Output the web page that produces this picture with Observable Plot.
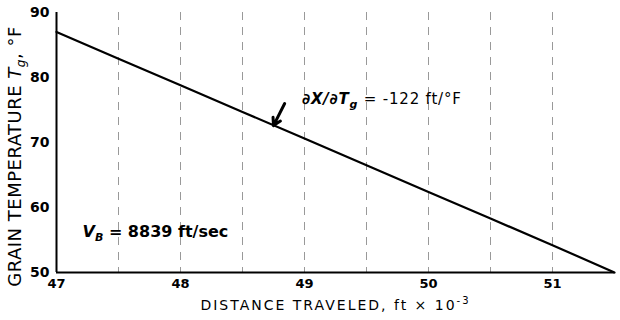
<!DOCTYPE html>
<html><head><meta charset="utf-8">
<script src="https://cdn.jsdelivr.net/npm/d3@7"></script>
<script src="https://cdn.jsdelivr.net/npm/@observablehq/plot@0.6"></script>
<style>body{margin:0;background:#fff}</style>
</head><body><div id="chart"></div>
<script>
const distance = [47, 47.5, 48, 48.5, 49, 49.5, 50, 50.5, 51, 51.5];
const temperature = [87, 82.9, 78.8, 74.7, 70.6, 66.5, 62.4, 58.3, 54.2, 50];
const gridX = [47.5, 48, 48.5, 49, 49.5, 50, 50.5, 51];
const xTicks = [47, 48, 49, 50, 51];
const yTicks = [50, 60, 70, 80, 90];
const slopeNote = {x: 48.98, y: 76.6, text: "∂X/∂Tg = -122 ft/°F"};
const velNote = {x: 47.21, y: 56.3, text: "VB = 8839 ft/sec"};
const arrowPts = {x1: 48.84, y1: 76.0, x2: 48.75, y2: 72.6};

const data = distance.map((d, i) => ({d, t: temperature[i]}));
const font = "DejaVu Sans, Liberation Sans, sans-serif";

const chart = Plot.plot({
  width: 620, height: 320,
  marginLeft: 56, marginRight: 6, marginTop: 12, marginBottom: 48,
  style: {fontFamily: font, background: "#fff", color: "#000"},
  x: {domain: [47, 51.5]},
  y: {domain: [50, 90]},
  marks: [
    Plot.ruleX(gridX, {stroke: "#999", strokeWidth: 1, strokeDasharray: "8,7"}),
    Plot.ruleX([47], {stroke: "#000", strokeWidth: 2}),
    Plot.ruleY([50], {stroke: "#000", strokeWidth: 2}),
    Plot.axisX({ticks: xTicks, tickSize: 0, tickPadding: 6, fontSize: 13, fontWeight: "bold", label: null, tickFormat: d => String(d)}),
    Plot.axisY({ticks: yTicks, tickSize: 0, tickPadding: 7, fontSize: 14, fontWeight: "bold", label: null}),
    Plot.line(data, {x: "d", y: "t", stroke: "#000", strokeWidth: 2.2}),
    Plot.arrow([arrowPts], {x1: "x1", y1: "y1", x2: "x2", y2: "y2", stroke: "#000", strokeWidth: 3, headLength: 9}),
    Plot.text([slopeNote], {x: "x", y: "y", text: "text", textAnchor: "start", fontSize: 15, className: "slope-note"}),
    Plot.text([velNote], {x: "x", y: "y", text: "text", textAnchor: "start", fontSize: 16, fontWeight: "bold", className: "vel-note"}),
    Plot.text(["GRAIN TEMPERATURE Tg, °F"], {frameAnchor: "left", textAnchor: "middle", dx: -41, dy: 14, rotate: -90, fontSize: 18, fontWeight: 500, className: "ytitle"}),
    Plot.text(["DISTANCE TRAVELED, ft × 10-3"], {frameAnchor: "bottom", dy: 37, dx: 0, fontSize: 14, className: "xtitle"})
  ]
});
document.getElementById("chart").appendChild(chart);

function sub(sel, html) {
  chart.querySelectorAll(sel + " text").forEach(t => { t.innerHTML = html; });
}
sub(".ytitle", 'GRAIN TEMPERATURE <tspan font-style="italic">T</tspan><tspan font-style="italic" font-size="12" dy="4">g</tspan><tspan dy="-4">, °F</tspan>');
sub(".xtitle", 'DISTANCE TRAVELED, ft × 10<tspan font-size="10" dy="-6">-3</tspan>');
sub(".slope-note", '<tspan font-style="italic" font-weight="bold">∂X/∂T</tspan><tspan font-style="italic" font-weight="bold" font-size="11" dy="4">g</tspan><tspan dy="-4"> = -122 ft/°F</tspan>');
sub(".vel-note", '<tspan font-style="italic">V</tspan><tspan font-style="italic" font-size="11" dy="4">B</tspan><tspan dy="-4"> = 8839 ft/sec</tspan>');
chart.querySelectorAll(".xtitle text").forEach(t => t.setAttribute("letter-spacing", "2"));
chart.querySelectorAll(".ytitle text").forEach(t => t.setAttribute("letter-spacing", "0.5"));
chart.querySelectorAll(".slope-note text").forEach(t => t.setAttribute("letter-spacing", "0.8"));
</script></body></html>
